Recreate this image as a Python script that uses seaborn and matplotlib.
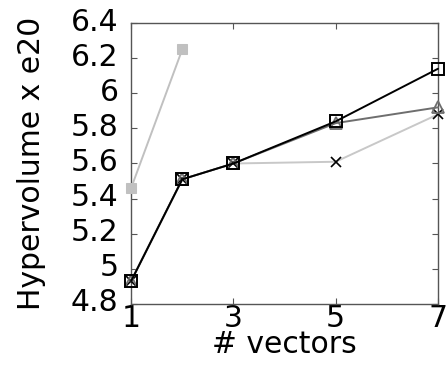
import matplotlib
matplotlib.use("Agg")
import matplotlib.pyplot as plt
import matplotlib.transforms as mtransforms
import seaborn as sns
import pandas as pd

# Hypervolume (x e20) against number of weight vectors, one list per configuration
vectors_short = [1, 2]
hv_short = [5.46, 6.25]

vectors = [1, 2, 3, 5, 7]
hv_cross = [4.93, 5.51, 5.60, 5.61, 5.88]
hv_triangle = [4.93, 5.51, 5.60, 5.83, 5.92]
hv_square = [4.93, 5.51, 5.60, 5.84, 6.14]

x_ticks = [1, 3, 5, 7]
y_ticks = [4.8, 5.0, 5.2, 5.4, 5.6, 5.8, 6.0, 6.2, 6.4]
y_tick_labels = ["4.8", "5", "5.2", "5.4", "5.6", "5.8", "6", "6.2", "6.4"]

sns.set_style("ticks")
plt.rcParams["font.family"] = ["DejaVu Sans"]
plt.rcParams["text.color"] = "black"
plt.rcParams["axes.labelcolor"] = "black"
plt.rcParams["xtick.labelcolor"] = "black"
plt.rcParams["ytick.labelcolor"] = "black"

FS = 21.5

fig = plt.figure(figsize=(4.46, 3.67), dpi=100)
ax = fig.add_axes([0.294, 0.172, 0.688, 0.765])

series = [
    (vectors_short, hv_short, dict(color="#c0c0c0", marker="s", markersize=7,
                                   markerfacecolor="#c0c0c0", markeredgecolor="#c0c0c0")),
    (vectors, hv_cross, dict(color="#c8c8c8", marker="x", markersize=7,
                             markeredgecolor="black", markeredgewidth=1.2)),
    (vectors, hv_triangle, dict(color="#6e6e6e", marker="^", markersize=8,
                                markerfacecolor="none", markeredgecolor="#6e6e6e",
                                markeredgewidth=1.3)),
    (vectors, hv_square, dict(color="black", marker="s", markersize=8,
                              markerfacecolor="none", markeredgecolor="black",
                              markeredgewidth=1.4)),
]

for xs, ys, style in series:
    df = pd.DataFrame({"x": xs, "y": ys})
    sns.lineplot(data=df, x="x", y="y", ax=ax, linewidth=1.4, clip_on=False,
                 zorder=3, **style)

ax.set_xlim(1, 7)
ax.set_ylim(4.8, 6.4)
ax.set_xticks(x_ticks)
ax.set_xticklabels([str(t) for t in x_ticks])
ax.set_yticks(y_ticks)
ax.set_yticklabels(y_tick_labels)

for side in ["left", "right", "top", "bottom"]:
    ax.spines[side].set_visible(True)
    ax.spines[side].set_color("#555555")
    ax.spines[side].set_linewidth(1.0)

ax.tick_params(direction="in", length=4, width=0.8, color="#555555",
               top=True, right=True, labelsize=FS)
ax.tick_params(axis="y", pad=9)
ax.tick_params(axis="x", pad=0)

# raise the y tick labels slightly above their ticks
lift = mtransforms.ScaledTranslation(0, 4 / 100, fig.dpi_scale_trans)
for lbl in ax.get_yticklabels():
    lbl.set_transform(lbl.get_transform() + lift)

ax.set_xlabel("# vectors", fontsize=FS, labelpad=-2)
ax.set_ylabel("Hypervolume x e20", fontsize=FS, labelpad=18)

fig.savefig("out.png", dpi=100)
